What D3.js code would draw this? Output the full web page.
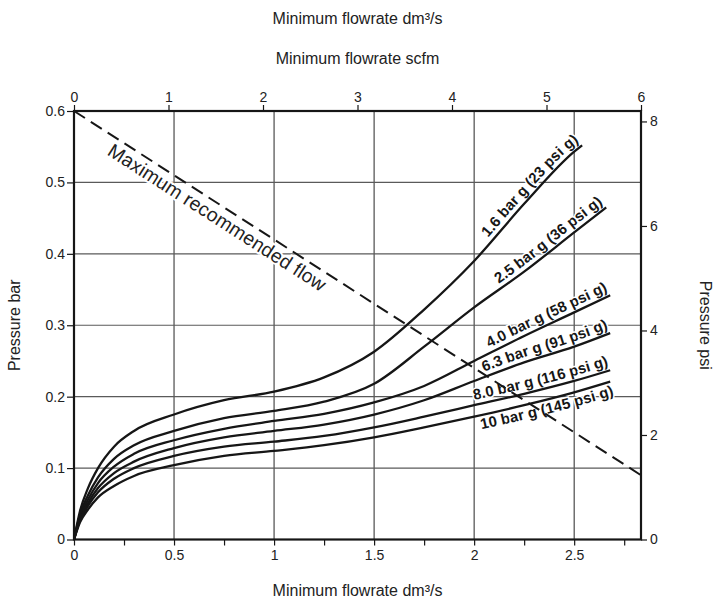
<!DOCTYPE html>
<html>
<head>
<meta charset="utf-8">
<script src="https://cdn.jsdelivr.net/npm/d3@7"></script>
<style>
  body { margin: 0; background: #fff; }
  svg { display: block; }
  text { font-family: "Liberation Sans", Arial, Helvetica, sans-serif; }
</style>
</head>
<body>
<div id="chart"></div>
<script>
// Constants
const width = 718;
const height = 606;
const margin = { top: 111, right: 77, bottom: 66.5, left: 74 };
const INK = "#161616";
const GRID = "#5a5a5a";

// Data: flow (dm3/s) grid shared by all curves, last point is each curve's own end
const FLOW_GRID = [0, 0.03, 0.07, 0.12, 0.2, 0.3, 0.5, 0.75, 1, 1.25, 1.5, 1.75, 2, 2.25, 2.5];
const CURVE_END_FLOW = [2.54, 2.66, 2.68, 2.68, 2.68, 2.68];
const CURVE_LABELS = [
  "1.6 bar g (23 psi g)",
  "2.5 bar g (36 psi g)",
  "4.0 bar g (58 psi g)",
  "6.3 bar g (91 psi g)",
  "8.0 bar g (116 psi g)",
  "10 bar g (145 psi g)"
];
// pressure drop (bar) at FLOW_GRID, then at CURVE_END_FLOW
const P_1_6 = [0, 0.040, 0.072, 0.100, 0.130, 0.152, 0.175, 0.195, 0.207, 0.227, 0.263, 0.322, 0.390, 0.470, 0.543, 0.552];
const P_2_5 = [0, 0.035, 0.062, 0.087, 0.113, 0.132, 0.152, 0.170, 0.180, 0.193, 0.218, 0.270, 0.325, 0.375, 0.430, 0.465];
const P_4_0 = [0, 0.032, 0.056, 0.079, 0.102, 0.120, 0.139, 0.155, 0.166, 0.176, 0.192, 0.215, 0.250, 0.285, 0.318, 0.342];
const P_6_3 = [0, 0.029, 0.051, 0.072, 0.093, 0.109, 0.128, 0.143, 0.152, 0.161, 0.175, 0.195, 0.222, 0.248, 0.270, 0.289];
const P_8_0 = [0, 0.027, 0.047, 0.066, 0.085, 0.100, 0.117, 0.130, 0.137, 0.145, 0.157, 0.172, 0.188, 0.204, 0.222, 0.237];
const P_10 =  [0, 0.024, 0.042, 0.059, 0.075, 0.089, 0.104, 0.117, 0.124, 0.132, 0.143, 0.157, 0.172, 0.188, 0.206, 0.221];
const CURVE_PRESSURES = [P_1_6, P_2_5, P_4_0, P_6_3, P_8_0, P_10];
// label sits above its curve, except the bottom one
const LABEL_BELOW = [false, false, false, false, false, true];

// Maximum recommended flow (dashed)
const MAX_FLOW_X = [0, 2.834];
const MAX_FLOW_P = [0.6, 0.09];

// Ticks
const BOTTOM_TICKS = [0, 0.25, 0.5, 0.75, 1, 1.25, 1.5, 1.75, 2, 2.25, 2.5, 2.75];
const BOTTOM_LABELS = [0, 0.5, 1, 1.5, 2, 2.5];
const TOP_TICKS = [0, 1, 2, 3, 4, 5, 6];
const LEFT_TICKS = [0, 0.1, 0.2, 0.3, 0.4, 0.5, 0.6];
const RIGHT_TICKS = [0, 2, 4, 6, 8];
const V_GRID = [0.5, 1, 1.5, 2, 2.5];
const H_GRID = [0.1, 0.2, 0.3, 0.4, 0.5];

// Scales
const x = d3.scaleLinear().domain([0, 2.834]).range([margin.left, width - margin.right]);
const xTop = d3.scaleLinear().domain([0, 6]).range([margin.left, width - margin.right]);
const y = d3.scaleLinear().domain([0, 0.6]).range([height - margin.bottom, margin.top]);
const yPsi = d3.scaleLinear().domain([0, 8.2]).range([height - margin.bottom, margin.top]);

const svg = d3.select("#chart")
  .append("svg")
  .attr("width", width)
  .attr("height", height)
  .attr("viewBox", [0, 0, width, height]);

// Grid lines
svg.append("g")
  .selectAll("line")
  .data(V_GRID)
  .join("line")
  .attr("x1", d => x(d)).attr("x2", d => x(d))
  .attr("y1", y(0)).attr("y2", y(0.6))
  .attr("stroke", "#3a3a3a")
  .attr("stroke-width", 1.1);

svg.append("g")
  .selectAll("line")
  .data(H_GRID)
  .join("line")
  .attr("x1", x(0)).attr("x2", x(2.834))
  .attr("y1", d => y(d)).attr("y2", d => y(d))
  .attr("stroke", GRID)
  .attr("stroke-width", 1.1);

// Axes
function styleAxis(g) {
  g.select(".domain").remove();
  g.selectAll(".tick line").attr("stroke", INK).attr("stroke-width", 1.2);
  g.selectAll(".tick text")
    .attr("fill", "#222")
    .attr("font-size", "14px")
    .attr("font-family", "'Liberation Sans', Arial, sans-serif");
}

svg.append("g")
  .attr("transform", `translate(0,${y(0)})`)
  .call(d3.axisBottom(x).tickValues(BOTTOM_TICKS).tickSize(6).tickPadding(5)
    .tickFormat(d => BOTTOM_LABELS.includes(d) ? d : ""))
  .call(styleAxis);

svg.append("g")
  .attr("transform", `translate(0,${y(0.6)})`)
  .call(d3.axisTop(xTop).tickValues(TOP_TICKS).tickSize(6).tickPadding(3).tickFormat(d => d))
  .call(styleAxis);

svg.append("g")
  .attr("transform", `translate(${x(0)},0)`)
  .call(d3.axisLeft(y).tickValues(LEFT_TICKS).tickSize(7).tickPadding(2).tickFormat(d => d))
  .call(styleAxis);

svg.append("g")
  .attr("transform", `translate(${x(2.834)},0)`)
  .call(d3.axisRight(yPsi).tickValues(RIGHT_TICKS).tickSize(6).tickPadding(3).tickFormat(d => d))
  .call(styleAxis);

// Frame
svg.append("rect")
  .attr("x", x(0))
  .attr("y", y(0.6))
  .attr("width", x(2.834) - x(0))
  .attr("height", y(0) - y(0.6))
  .attr("fill", "none")
  .attr("stroke", INK)
  .attr("stroke-width", 2.2);

// Axis titles
const titleFont = "16px";
svg.append("text")
  .attr("x", (x(0) + x(2.834)) / 2).attr("y", 24)
  .attr("text-anchor", "middle").attr("font-size", titleFont).attr("fill", "#222")
  .text("Minimum flowrate dm³/s");

svg.append("text")
  .attr("x", (x(0) + x(2.834)) / 2).attr("y", 64)
  .attr("text-anchor", "middle").attr("font-size", titleFont).attr("fill", "#222")
  .text("Minimum flowrate scfm");

svg.append("text")
  .attr("x", (x(0) + x(2.834)) / 2).attr("y", 596)
  .attr("text-anchor", "middle").attr("font-size", titleFont).attr("fill", "#222")
  .text("Minimum flowrate dm³/s");

svg.append("text")
  .attr("transform", `translate(20,${(y(0) + y(0.6)) / 2}) rotate(-90)`)
  .attr("text-anchor", "middle").attr("font-size", titleFont).attr("fill", "#222")
  .text("Pressure bar");

svg.append("text")
  .attr("transform", `translate(700,${(y(0) + y(0.6)) / 2}) rotate(90)`)
  .attr("text-anchor", "middle").attr("font-size", titleFont).attr("fill", "#222")
  .text("Pressure psi");

// Build curve data
const curves = CURVE_PRESSURES.map((ps, i) => {
  const flows = FLOW_GRID.filter(f => f < CURVE_END_FLOW[i]).concat([CURVE_END_FLOW[i]]);
  return flows.map((f, j) => ({ flow: f, p: ps[j] }));
});

const line = d3.line()
  .x(d => x(d.flow))
  .y(d => y(d.p))
  .curve(d3.curveMonotoneX);

// Invisible paths for the text labels
const defs = svg.append("defs");
curves.forEach((c, i) => {
  defs.append("path").attr("id", "curve-" + i).attr("d", line(c));
});
const maxData = MAX_FLOW_X.map((f, i) => ({ flow: f, p: MAX_FLOW_P[i] }));
defs.append("path").attr("id", "max-flow").attr("d", d3.line().x(d => x(d.flow)).y(d => y(d.p))(maxData));

// Labels with white halo, drawn before the lines
const labels = svg.append("g")
  .attr("font-weight", "bold")
  .attr("font-size", "15px")
  .attr("fill", INK);

CURVE_LABELS.forEach((lab, i) => {
  labels.append("text")
    .attr("dy", LABEL_BELOW[i] ? 14 : -5)
    .attr("stroke", "#fff")
    .attr("stroke-width", 3)
    .attr("paint-order", "stroke")
    .append("textPath")
    .attr("href", "#curve-" + i)
    .attr("startOffset", "100%")
    .attr("text-anchor", "end")
    .text(lab);
});

svg.append("text")
  .attr("dy", 19)
  .attr("font-size", "19.5px")
  .attr("fill", "#222")
  .attr("stroke", "#fff")
  .attr("stroke-width", 4)
  .attr("paint-order", "stroke")
  .append("textPath")
  .attr("href", "#max-flow")
  .attr("startOffset", "7.5%")
  .text("Maximum recommended flow");

// Curves
svg.append("g")
  .selectAll("path")
  .data(curves)
  .join("path")
  .attr("d", line)
  .attr("fill", "none")
  .attr("stroke", INK)
  .attr("stroke-width", 2.3);

// Maximum recommended flow line
svg.append("path")
  .attr("d", d3.line().x(d => x(d.flow)).y(d => y(d.p))(maxData))
  .attr("fill", "none")
  .attr("stroke", INK)
  .attr("stroke-width", 2)
  .attr("stroke-dasharray", "13,7");
</script>
</body>
</html>
